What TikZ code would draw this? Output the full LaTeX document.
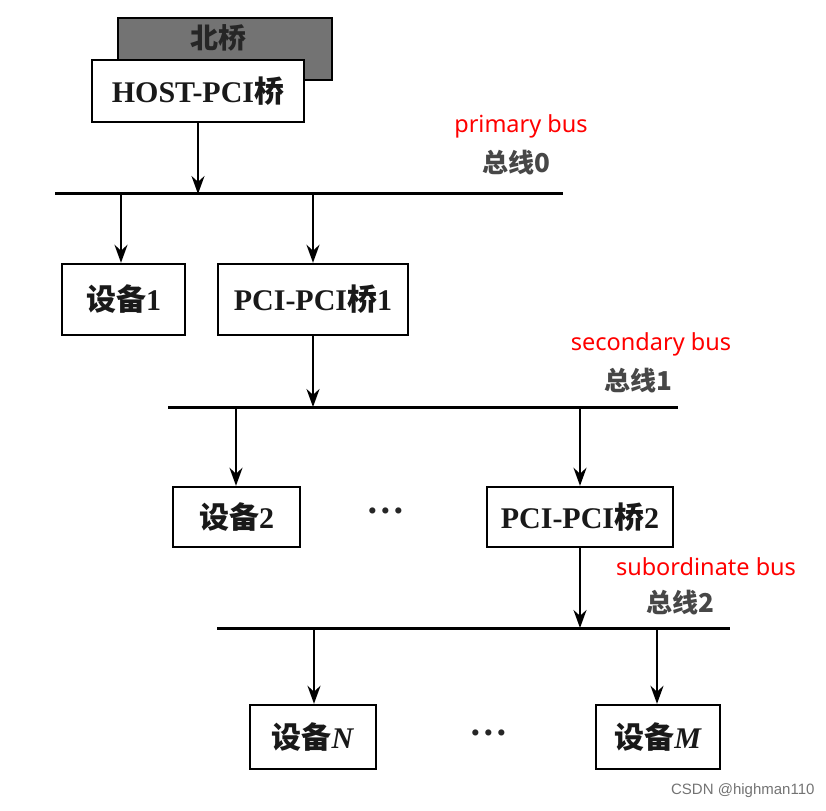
\documentclass[tikz,border=0pt]{standalone}
\usepackage{fontspec}
\setmainfont{Liberation Serif}
\newfontfamily\cjk{Noto Sans CJK SC}
\newfontfamily\redf{Noto Sans}
\newfontfamily\wmf{Liberation Sans}
\usetikzlibrary{arrows.meta}
\begin{document}
\begin{tikzpicture}[x=1pt,y=-1pt,
  box/.style={draw, line width=2.4pt, fill=white, inner sep=0pt, text=black!90, font=\bfseries\fontsize{30}{32}\selectfont},
  bus/.style={line width=3pt},
  arr/.style={line width=2pt, -{Stealth[length=18pt,width=13pt]}},
  redlbl/.style={text=red, font=\redf\fontsize{23.5}{25}\selectfont},
  buslbl/.style={font=\cjk\bfseries\fontsize{26}{28}\selectfont, text=black!72},
  dots/.style={font=\bfseries\fontsize{38}{40}\selectfont, text=black!85}]
\useasboundingbox (0,0) rectangle (826,810);
% north bridge
\node[box, fill=black!55, minimum width=214pt, minimum height=62pt] (nb) at (225,49) {};
\node[font=\cjk\bfseries\fontsize{28}{30}\selectfont, text=black!85] (nbt) at (218,38) {北桥};
\node[box, minimum width=212pt, minimum height=62pt] (host) at (198,91) {HOST-PCI{\cjk 桥}};
% bus 0
\coordinate (b0l) at (55,194);
\coordinate (b0r) at (563,194);
\draw[bus] (b0l) -- (b0r);
\coordinate (b0h) at (198,194);
\draw[arr] (host.south -| b0h) -- (b0h);
\node[redlbl] (pb) at (521,126) {primary bus};
\node[buslbl] (l0) at (516,163) {总线0};
% level 1
\node[box, minimum width=123pt, minimum height=71pt] (d1) at (123.5,299.5) {{\cjk 设备}1};
\node[box, minimum width=190pt, minimum height=71pt] (p1) at (313,299.5) {PCI-PCI{\cjk 桥}1};
\coordinate (b0a) at (121,194);
\coordinate (b0b) at (313,194);
\draw[arr] (b0a) -- (b0a |- d1.north);
\draw[arr] (b0b) -- (b0b |- p1.north);
% bus 1
\coordinate (b1l) at (168,407);
\coordinate (b1r) at (678,407);
\draw[bus] (b1l) -- (b1r);
\coordinate (b1p) at (313,407);
\draw[arr] (p1.south) -- (b1p);
\node[redlbl] (sb) at (651,344) {secondary bus};
\node[buslbl] (l1) at (638,381) {总线1};
% level 2
\node[box, minimum width=127pt, minimum height=60pt] (d2) at (236.5,517) {{\cjk 设备}2};
\node[dots] (dt1) at (386,516) {···};
\node[box, minimum width=186pt, minimum height=60pt] (p2) at (580,517) {PCI-PCI{\cjk 桥}2};
\coordinate (b1a) at (236,407);
\coordinate (b1b) at (580,407);
\draw[arr] (b1a) -- (b1a |- d2.north);
\draw[arr] (b1b) -- (b1b |- p2.north);
% bus 2
\coordinate (b2l) at (217,628);
\coordinate (b2r) at (730,628);
\draw[bus] (b2l) -- (b2r);
\coordinate (b2p) at (580,628);
\draw[arr] (p2.south) -- (b2p);
\node[redlbl] (ob) at (706,567) {subordinate bus};
\node[buslbl] (l2) at (680,603) {总线2};
% level 3
\node[box, minimum width=126pt, minimum height=64pt] (dn) at (313,737) {{\cjk 设备}\textit{N}};
\node[dots] (dt2) at (489,738) {···};
\node[box, minimum width=124pt, minimum height=64pt] (dm) at (658,737) {{\cjk 设备}\textit{M}};
\coordinate (b2a) at (314,628);
\coordinate (b2b) at (657,628);
\draw[arr] (b2a) -- (b2a |- dn.north);
\draw[arr] (b2b) -- (b2b |- dm.north);
% watermark
\node[anchor=east, text=black!55, font=\wmf\fontsize{15}{17}\selectfont] (wm) at (818,791) {CSDN @highman110};
\end{tikzpicture}
\end{document}
